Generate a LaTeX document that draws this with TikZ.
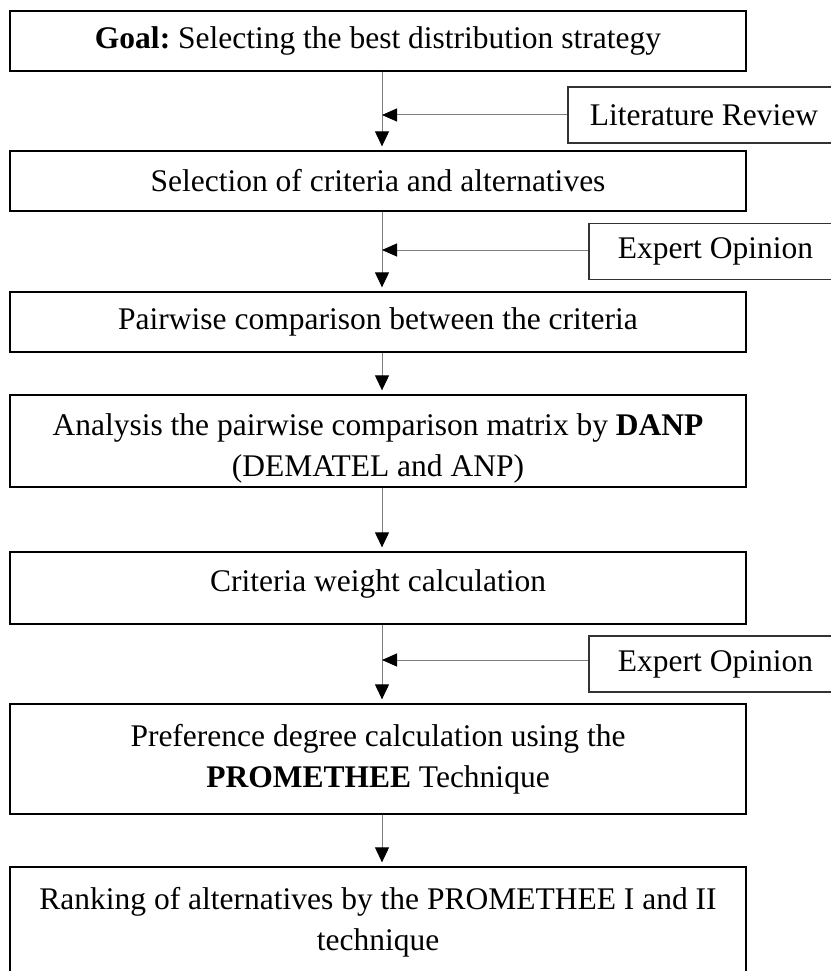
\documentclass[tikz,border=0pt]{standalone}
\usepackage{fontspec}
\setmainfont{Liberation Serif}
\usetikzlibrary{arrows.meta}
\frenchspacing
\begin{document}
\begin{tikzpicture}[x=1pt,y=-1pt]
\tikzset{stage/.style = {draw=black,line width=1.3pt,minimum width=736pt,minimum height=60pt,inner sep=0pt,align=center,font=\fontsize{31.5}{41}\selectfont}}
\tikzset{source/.style = {draw=black!80,line width=1.1pt,minimum height=56pt,inner sep=0pt,font=\fontsize{31.5}{41}\selectfont}}
\tikzset{flow/.style = {draw=black!50,line width=1pt,-{Triangle[length=15pt,width=14pt,black]},shorten >=4pt}}
\tikzset{feed/.style = {draw=black!50,line width=1pt,-{Triangle[length=15pt,width=13pt,black]}}}
\useasboundingbox (0,0) rectangle (830,971);
% vertices
\node[stage] (1) at (378,41) {\textbf{Goal:} Selecting the best distribution strategy};
\node[stage] (2) at (378,181) {Selection of criteria and alternatives};
\node[stage] (3) at (378,322) {Pairwise comparison between the criteria};
\node[stage,minimum height=92pt,text height=77pt] (4) at (378,441) {Analysis the pairwise comparison matrix by \textbf{DANP}\\(DEMATEL and ANP)};
\node[stage,minimum height=72pt,text depth=14pt] (5) at (378,588) {Criteria weight calculation};
\node[stage,minimum height=110pt] (6) at (378,759) {Preference degree calculation using the\\\textbf{PROMETHEE} Technique};
\node[stage,minimum height=110pt] (7) at (378,922) {Ranking of alternatives by the PROMETHEE I and II\\technique};
\node[source,minimum width=272pt] (8) at (704,115) {Literature Review};
\node[source,minimum width=253pt] (9) at (715.5,251.5) {Expert Opinion};
\node[source,minimum width=253pt] (10) at (715.5,664) {Expert Opinion};
\coordinate (spine) at (382,0);
%edges
\draw[flow] (1.south -| spine) -- (2.north -| spine);
\draw[flow] (2.south -| spine) -- (3.north -| spine);
\draw[flow] (3.south -| spine) -- (4.north -| spine);
\draw[flow] (4.south -| spine) -- (5.north -| spine);
\draw[flow] (5.south -| spine) -- (6.north -| spine);
\draw[flow] (6.south -| spine) -- (7.north -| spine);
\draw[feed] (8.west) -- (8.west -| spine);
\draw[feed] ([yshift=1.5pt]9.west) -- ([yshift=1.5pt]9.west -| spine);
\draw[feed] ([yshift=4pt]10.west) -- ([yshift=4pt]10.west -| spine);
\end{tikzpicture}
\end{document}
